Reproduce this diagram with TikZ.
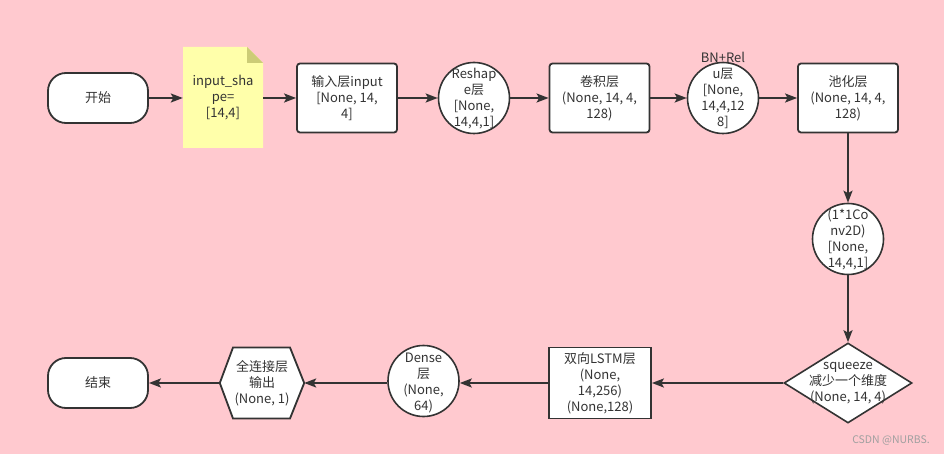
\documentclass[tikz,border=0pt]{standalone}
\usepackage{fontspec}
\setmainfont{Noto Sans CJK SC}
\usetikzlibrary{arrows.meta,shapes.geometric}

\definecolor{bgpink}{RGB}{255,201,207}
\definecolor{ink}{RGB}{51,51,51}
\definecolor{notefill}{RGB}{255,255,170}
\definecolor{notefold}{RGB}{204,204,119}
\definecolor{mark}{RGB}{160,160,160}

\begin{document}
\begin{tikzpicture}[x=1pt,y=-1pt,
  every node/.style={font=\fontsize{13}{16}\selectfont, text=ink, align=center, inner sep=0pt},
  term/.style={draw=ink, line width=1.8pt, fill=white, rounded corners=18pt,
    minimum width=100pt, minimum height=50pt},
  boxnode/.style={draw=ink, line width=1.8pt, fill=white, rounded corners=3pt,
    minimum width=100pt, minimum height=69pt},
  sharpbox/.style={draw=ink, line width=1.8pt, fill=white,
    minimum width=102pt, minimum height=71pt},
  circnode/.style={draw=ink, line width=1.6pt, fill=white, circle, minimum size=71pt},
  decision/.style={draw=ink, line width=1.6pt, fill=white, diamond,
    minimum width=128pt, minimum height=80pt},
  flow/.style={draw=ink, line width=1.9pt,
    -{Stealth[length=12pt,width=9pt,inset=2.5pt]}},
]
% canvas
\fill[bgpink] (0,0) rectangle (944,454);
\useasboundingbox (0,0) rectangle (944,454);

% top row
\node[term] (start) at (98,98) {开始};

% note with folded corner
\fill[notefill] (183,47) -- (247,47) -- (263,63) -- (263,148) -- (183,148) -- cycle;
\fill[notefold] (247,47) -- (263,63) -- (247,63) -- cycle;
\node[minimum width=80pt, minimum height=101pt] (note) at (223,98) {input\_sha\\pe=\\{[}14,4{]}};

\node[boxnode] (inp) at (347,98) {输入层input\\{[}None, 14,\\4{]}};

\node[circnode] (reshape) at (474,98) {};
\node (reshapeText) at (474,99) {Reshap\\e层\\{[}None,\\14,4,1{]}};

\node[boxnode] (conv) at (599.5,98) {卷积层\\(None, 14, 4,\\128)};

\node[circnode] (bn) at (723,98) {};
\node (bnText) at (723,90) {BN+Rel\\u层\\{[}None,\\14,4,12\\8{]}};

\node[boxnode] (pool) at (848,98) {池化层\\(None, 14, 4,\\128)};

% right column
\node[circnode] (conv1) at (848,239) {};
\node (conv1Text) at (848,239) {(1*1Co\\nv2D)\\{[}None,\\14,4,1{]}};

\node[decision] (sq) at (848,383) {};
\node (sqText) at (848,383.5) {squeeze\\减少一个维度\\(None, 14, 4)};

% bottom row
\node[sharpbox] (lstm) at (600,383) {双向LSTM层\\(None,\\14,256)\\(None,128)};

\node[circnode] (dense) at (423.5,381) {};
\node (denseText) at (423.5,383.5) {Dense\\层\\(None,\\64)};

\node[minimum width=84pt, minimum height=71pt] (fc) at (262,383) {};
\draw[ink, line width=1.8pt, fill=white, line join=miter]
  (fc.west) -- (233,347.5) -- (290,347.5) -- (fc.east) -- (290,418.5) -- (233,418.5) -- cycle;
\node (fcText) at (fc) {全连接层\\输出\\(None, 1)};

\node[term] (finish) at (98,383) {结束};

% connectors
\draw[flow] (start.east) -- (note.west |- start.east);
\draw[flow] (note.east |- inp.west) -- (inp.west);
\draw[flow] (inp.east) -- (reshape.west);
\draw[flow] (reshape.east) -- (conv.west);
\draw[flow] (conv.east) -- (bn.west);
\draw[flow] (bn.east) -- (pool.west);
\draw[flow] (pool.south) -- (conv1.north);
\draw[flow] (conv1.south) -- (sq.north);
\draw[flow] (sq.west) -- (lstm.east);
\draw[flow] (lstm.west) -- (dense.east |- lstm.west);
\draw[flow] (dense.west |- fc.east) -- (fc.east);
\draw[flow] (fc.west) -- (finish.east);

% watermark
\node[font=\fontsize{10.5}{12}\selectfont, text=mark, anchor=east] (wm) at (930,440) {CSDN @NURBS.};
\end{tikzpicture}
\end{document}
